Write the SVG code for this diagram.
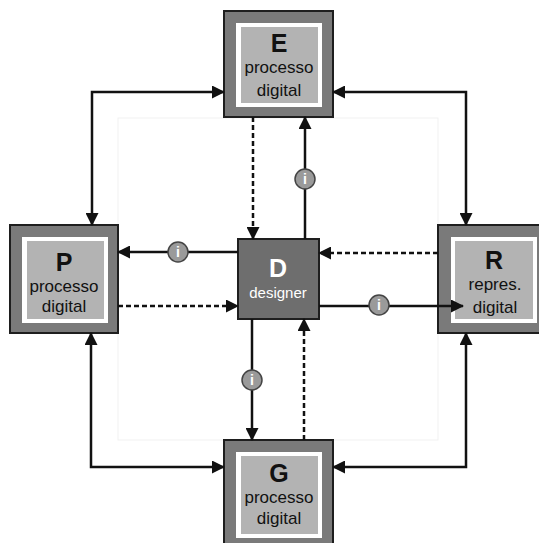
<svg xmlns="http://www.w3.org/2000/svg" width="539" height="543" viewBox="0 0 539 543">
<defs>
<marker id="ah" markerUnits="userSpaceOnUse" markerWidth="13" markerHeight="13" refX="12" refY="6.5" orient="auto-start-reverse" viewBox="0 0 13 13">
<path d="M0,0 L13,6.5 L0,13 z" fill="#111"/>
</marker>
<style>
.outer{fill:#7a7a7a;stroke:#1e1e1e;stroke-width:2}
.white{fill:#ffffff}
.gray{fill:#b3b3b3}
.big{font-family:"Liberation Sans",Arial,sans-serif;font-weight:bold;font-size:25px;fill:#111;text-anchor:middle}
.sm{font-family:"Liberation Sans",Arial,sans-serif;font-size:17px;fill:#111;text-anchor:middle}
.ln{fill:none;stroke:#111;stroke-width:2.5}
.dash{fill:none;stroke:#111;stroke-width:2.5;stroke-dasharray:5 3}
.info{fill:#9a9a9a;stroke:#444;stroke-width:1.5}
.it{font-family:"Liberation Sans",Arial,sans-serif;font-weight:bold;font-size:14px;fill:#fff;text-anchor:middle}
</style>
</defs>
<rect width="539" height="543" fill="#fff"/>
<rect x="118" y="118" width="320" height="322" fill="none" stroke="#f1f1f1" stroke-width="1"/>
<g id="E">
<rect class="outer" x="224" y="11" width="109" height="106"/>
<rect class="white" x="236" y="23" width="86" height="84"/>
<rect class="gray" x="241" y="27" width="77" height="76"/>
<text class="big" x="279" y="52">E</text>
<text class="sm" x="279" y="73">processo</text>
<text class="sm" x="279" y="96">digital</text>
</g>
<g id="P">
<rect class="outer" x="10" y="225" width="108" height="108"/>
<rect class="white" x="22" y="237" width="86" height="86"/>
<rect class="gray" x="27" y="241" width="77" height="78"/>
<text class="big" x="64" y="271">P</text>
<text class="sm" x="64" y="292">processo</text>
<text class="sm" x="64" y="312">digital</text>
</g>
<g id="R">
<rect class="outer" x="438" y="225" width="108" height="108"/>
<rect class="white" x="451" y="237" width="86" height="86"/>
<rect class="gray" x="455" y="241" width="78" height="78"/>
<text class="big" x="494" y="269">R</text>
<text class="sm" x="495" y="290">repres.</text>
<text class="sm" x="495" y="313">digital</text>
</g>
<g id="G">
<rect class="outer" x="224" y="440" width="109" height="108"/>
<rect class="white" x="236" y="452" width="86" height="86"/>
<rect class="gray" x="241" y="456" width="77" height="78"/>
<text class="big" x="279" y="482">G</text>
<text class="sm" x="279" y="503">processo</text>
<text class="sm" x="279" y="524">digital</text>
</g>
<g id="D">
<rect x="238" y="239" width="81" height="80" fill="#6e6e6e" stroke="#1e1e1e" stroke-width="2"/>
<text x="278" y="277" font-family="'Liberation Sans',Arial,sans-serif" font-weight="bold" font-size="25" fill="#fff" text-anchor="middle">D</text>
<text x="278" y="298" font-family="'Liberation Sans',Arial,sans-serif" font-size="15" fill="#fff" text-anchor="middle">designer</text>
</g>
<g id="connectors">
<path class="ln" d="M224,92 H92 V225" marker-start="url(#ah)" marker-end="url(#ah)"/>
<path class="ln" d="M333,92 H466 V225" marker-start="url(#ah)" marker-end="url(#ah)"/>
<path class="ln" d="M91,333 V467 H224" marker-start="url(#ah)" marker-end="url(#ah)"/>
<path class="ln" d="M466,333 V467 H333" marker-start="url(#ah)" marker-end="url(#ah)"/>
<path class="ln" d="M238,252 H118" marker-end="url(#ah)"/>
<path class="dash" d="M118,306 H238" marker-end="url(#ah)"/>
<path class="dash" d="M253,117 V239" marker-end="url(#ah)"/>
<path class="ln" d="M305,239 V117" marker-end="url(#ah)"/>
<path class="dash" d="M438,253 H319" marker-end="url(#ah)"/>
<path class="ln" d="M319,306 H463" marker-end="url(#ah)"/>
<path class="ln" d="M252,319 V440" marker-end="url(#ah)"/>
<path class="dash" d="M304,440 V319" marker-end="url(#ah)"/>
<circle class="info" cx="178" cy="252" r="10"/>
<text class="it" x="178" y="257">i</text>
<circle class="info" cx="305" cy="179" r="10"/>
<text class="it" x="305" y="184">i</text>
<circle class="info" cx="379" cy="305" r="10"/>
<text class="it" x="379" y="310">i</text>
<circle class="info" cx="252" cy="380" r="10"/>
<text class="it" x="252" y="385">i</text>
</g>
</svg>
